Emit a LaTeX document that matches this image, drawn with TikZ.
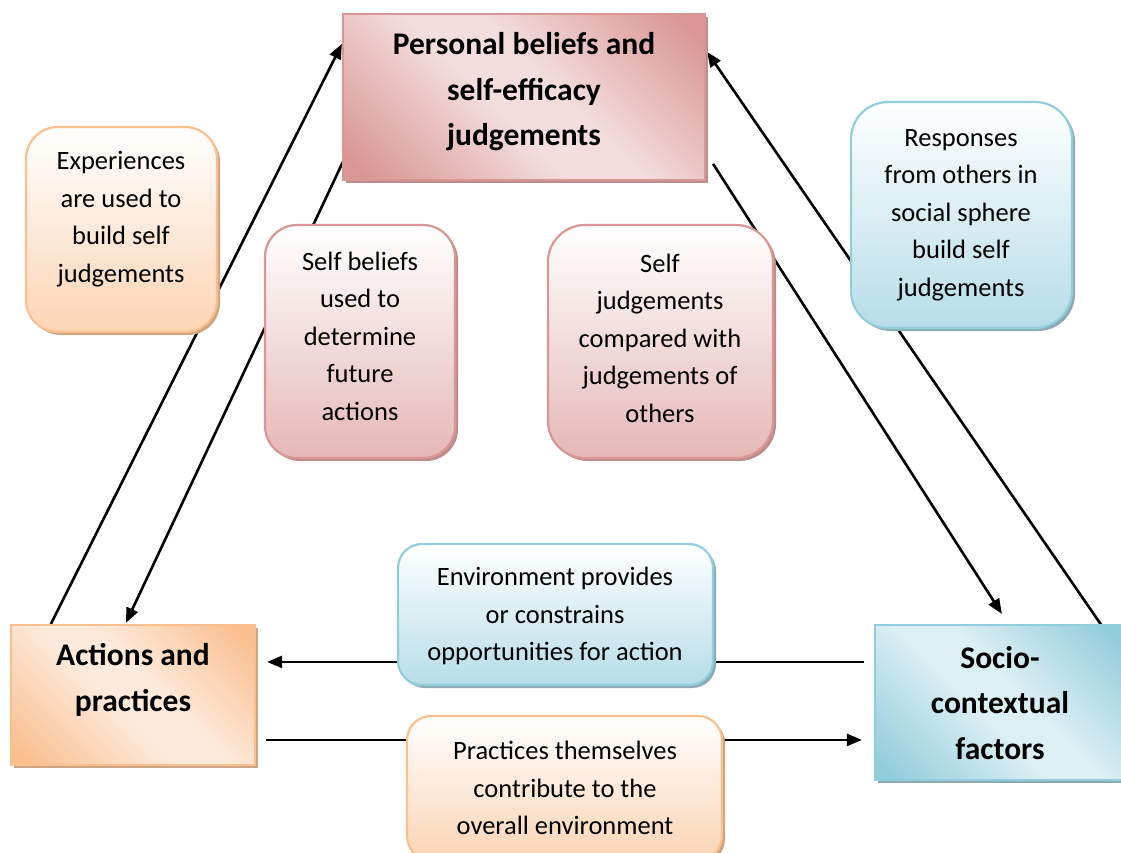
\documentclass[tikz,border=0pt]{standalone}
\usepackage{fontspec}
\setmainfont{Carlito}
\usetikzlibrary{arrows.meta,calc}
\pgfdeclarelayer{background}
\pgfsetlayers{background,main}
\definecolor{pdark}{RGB}{217,150,148}
\definecolor{plight}{RGB}{243,222,221}
\definecolor{pround}{RGB}{229,184,183}
\definecolor{pshadow}{RGB}{190,140,140}
\definecolor{odark}{RGB}{250,191,143}
\definecolor{olight}{RGB}{253,234,219}
\definecolor{oround}{RGB}{251,212,180}
\definecolor{oshadow}{RGB}{205,165,130}
\definecolor{bdark}{RGB}{146,205,220}
\definecolor{blight}{RGB}{220,239,244}
\definecolor{bround}{RGB}{182,221,232}
\definecolor{bshadow}{RGB}{140,170,180}
\pgfdeclarehorizontalshading{pinkdiag}{100bp}{color(0bp)=(pdark); color(18bp)=(pdark); color(45bp)=(plight); color(55bp)=(plight); color(82bp)=(pdark); color(100bp)=(pdark)}
\pgfdeclarehorizontalshading{orangediag}{100bp}{color(0bp)=(odark); color(18bp)=(odark); color(45bp)=(olight); color(55bp)=(olight); color(82bp)=(odark); color(100bp)=(odark)}
\pgfdeclarehorizontalshading{bluediag}{100bp}{color(0bp)=(bdark); color(18bp)=(bdark); color(45bp)=(blight); color(55bp)=(blight); color(82bp)=(bdark); color(100bp)=(bdark)}
\tikzset{
  box/.style={rectangle, inner sep=0pt, line width=2.2pt},
  mainbox/.style={box, shading angle=45},
  rbox/.style={box, rounded corners=#1},
  pinkmain/.style={mainbox, draw=pdark, shading=pinkdiag,
    preaction={fill=pshadow, transform canvas={shift={(3pt,-3pt)}}}},
  orangemain/.style={mainbox, draw=odark, shading=orangediag,
    preaction={fill=oshadow, transform canvas={shift={(3pt,-3pt)}}}},
  bluemain/.style={mainbox, draw=bdark, shading=bluediag,
    preaction={fill=bshadow, transform canvas={shift={(3pt,-3pt)}}}},
  pinkround/.style={rbox=#1, draw=pdark, top color=white, bottom color=pround,
    preaction={fill=pshadow, transform canvas={shift={(3pt,-3pt)}}}},
  orangeround/.style={rbox=#1, draw=odark, top color=white, bottom color=oround,
    preaction={fill=oshadow, transform canvas={shift={(3pt,-3pt)}}}},
  blueround/.style={rbox=#1, draw=bdark, top color=white, bottom color=bround,
    preaction={fill=bshadow, transform canvas={shift={(3pt,-3pt)}}}},
  smalltxt/.style={align=center, inner sep=0pt, font=\fontsize{26.5}{37.5}\selectfont},
  bigtxt/.style={align=center, inner sep=0pt, font=\fontsize{31.5}{45.5}\selectfont\bfseries},
  arr/.style={line width=2.6pt, -{Triangle[length=15pt,width=12pt]}}
}
\begin{document}
\begin{tikzpicture}[x=1pt,y=-1pt]
\useasboundingbox (0,0) rectangle (1121,852);
% main boxes
\node[pinkmain, minimum width=362pt, minimum height=166pt] (pb) at (524,97) {};
\node[orangemain, minimum width=244pt, minimum height=140pt] (act) at (133,695) {};
\node[bluemain, minimum width=250pt, minimum height=155pt] (soc) at (1000,702.5) {};
% rounded boxes
\node[orangeround=32pt, minimum width=191pt, minimum height=205pt] (exp) at (121.5,229.5) {};
\node[blueround=37pt, minimum width=221pt, minimum height=226pt] (resp) at (961.5,215) {};
\node[pinkround=32pt, minimum width=190pt, minimum height=233pt] (sb) at (360,341.5) {};
\node[pinkround=37pt, minimum width=225pt, minimum height=233pt] (sj) at (660.5,341.5) {};
\node[blueround=24pt, minimum width=315pt, minimum height=141pt] (env) at (555.5,614.5) {};
\node[orangeround=24pt, minimum width=315pt, minimum height=144pt] (prac) at (564.5,788) {};
% texts
\node[bigtxt] (pbt) at (524,92) {Personal beliefs and\\self-efficacy\\judgements};
\node[bigtxt] (actt) at (133,680) {Actions and\\practices};
\node[bigtxt] (soct) at (1000,703) {Socio-\\contextual\\factors};
\node[smalltxt] (expt) at (121,219) {Experiences\\are used to\\build self\\judgements};
\node[smalltxt] (respt) at (961,215) {Responses\\from others in\\social sphere\\build self\\judgements};
\node[smalltxt] (sbt) at (360,336) {Self beliefs\\used to\\determine\\future\\actions};
\node[smalltxt] (sjt) at (660,338) {Self\\judgements\\compared with\\judgements of\\others};
\node[smalltxt] (envt) at (555,616) {Environment provides\\or constrains\\opportunities for action};
\node[smalltxt] (pract) at (565,788) {Practices themselves\\contribute to the\\overall environment};
% connectors
\begin{pgfonlayer}{background}
\draw[arr] ($(act.north west)+(41,0)$) -- ($(pb.north west)+(0,31)$);
\draw[arr] ($(pb.north west)+(1,149)$) -- ($(act.north west)+(116,-1)$);
\draw[arr] ($(soc.north west)+(228,2)$) -- ($(pb.north east)+(1,39)$);
\draw[arr] ($(pb.north east)+(7,151)$) -- ($(soc.north west)+(128,-10)$);
\draw[arr] ($(soc.north west)+(-10,38)$) -- ($(act.north east)+(11,38)$);
\draw[arr] ($(act.north east)+(10,116)$) -- ($(soc.north west)+(-12,116)$);
\end{pgfonlayer}
\end{tikzpicture}
\end{document}
